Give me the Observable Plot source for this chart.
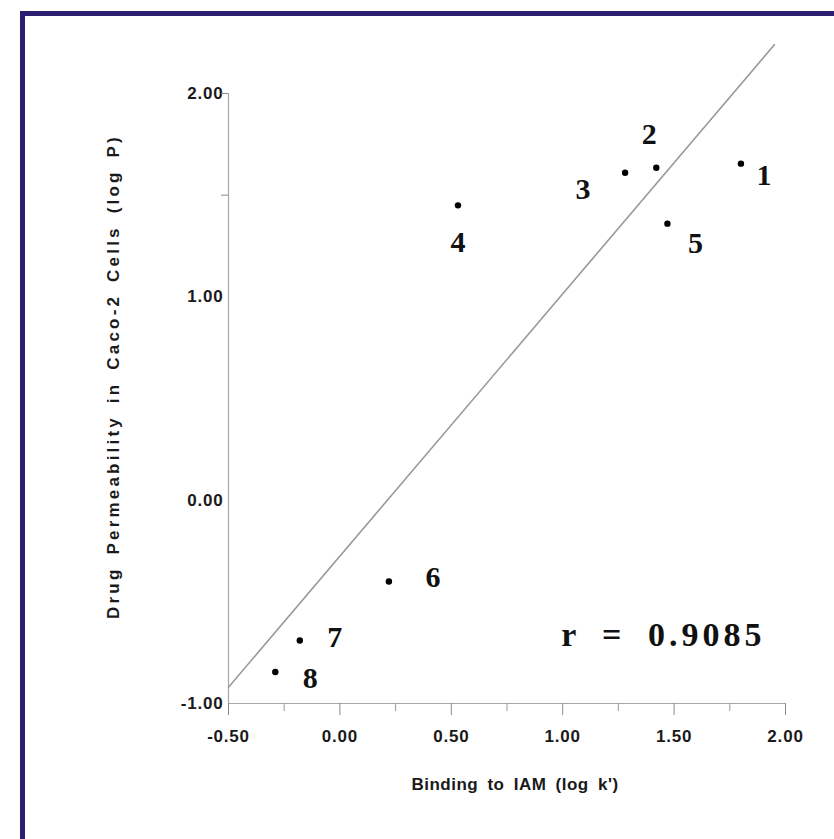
<!DOCTYPE html>
<html>
<head>
<meta charset="utf-8">
<script src="https://cdn.jsdelivr.net/npm/d3@7"></script>
<script src="https://cdn.jsdelivr.net/npm/@observablehq/plot@0.6"></script>
<style>
  html, body { margin: 0; padding: 0; background: #fff; }
  #wrap { position: relative; width: 834px; height: 839px; background: #fff; overflow: hidden; }
  #frame { position: absolute; left: 20px; top: 11px; width: 830px; height: 840px;
           border-left: 5px solid #2b1f72; border-top: 5px solid #2b1f72; box-sizing: border-box; }
  #chart { position: absolute; left: 0; top: 0; }
</style>
</head>
<body>
<div id="wrap"><div id="frame"></div><div id="chart"></div></div>
<script>
// Data
const compounds = ["1", "2", "3", "4", "5", "6", "7", "8"];
const bindingLogK = [1.80, 1.42, 1.28, 0.53, 1.47, 0.22, -0.18, -0.29];
const permeabilityLogP = [1.655, 1.635, 1.61, 1.45, 1.36, -0.40, -0.69, -0.845];
const fitX = [-0.5, 1.95];
const fitY = [-0.92, 2.24];
const xTicks = [-0.5, 0, 0.5, 1.0, 1.5, 2.0];
const xMinorTicks = [-0.25, 0.25, 0.75, 1.25, 1.75];
const yTicks = [-1, 0, 1, 2];
const yMinorTicks = [1.5, 2];
const xLabel = "Binding to IAM (log k')";
const yLabel = "Drug Permeability in Caco-2 Cells (log P)";
const rLabel = "r = 0.9085";

// label offsets (layout only)
const labelOffsets = [[23, 12], [-7, -33], [-42, 17], [0, 37], [28, 20], [44, -4], [35, -3], [35, 6]];

const points = compounds.map((c, i) => ({id: c, x: bindingLogK[i], y: permeabilityLogP[i]}));
const fit = fitX.map((x, i) => ({x, y: fitY[i]}));
const fmt = d => d.toFixed(2);

const sansBold = {fontFamily: "'Liberation Sans', Arial, sans-serif", fontWeight: "bold", fill: "#1a1a1a"};
const serifBold = {fontFamily: "'Liberation Serif', 'Times New Roman', serif", fontWeight: "bold", fill: "#111"};

const labelMarks = points.map((p, i) => Plot.text([p], {
  x: "x", y: "y", text: "id",
  dx: labelOffsets[i][0], dy: labelOffsets[i][1],
  ...serifBold, fontSize: 30
}));

const chart = Plot.plot({
  width: 834,
  height: 839,
  marginLeft: 228,
  marginRight: 49,
  marginTop: 93,
  marginBottom: 136,
  style: {background: "transparent", overflow: "visible"},
  x: {domain: [-0.5, 2.0]},
  y: {domain: [-1, 2]},
  marks: [
    Plot.ruleY([-1], {stroke: "#a8a8a8", strokeWidth: 1.2}),
    Plot.ruleX([-0.5], {stroke: "#a8a8a8", strokeWidth: 1.2}),
    Plot.axisX({ticks: xTicks, tickSize: 12, tickPadding: 14, tickFormat: fmt,
      stroke: "#8a8a8a", ...sansBold, fontSize: 17, label: null}),
    Plot.axisX({ticks: xMinorTicks, tickSize: 8, tickFormat: () => "", stroke: "#9a9a9a", label: null}),
    Plot.axisY({ticks: yTicks, tickSize: 0, tickPadding: 5, tickFormat: fmt,
      ...sansBold, fontSize: 17, label: null}),
    Plot.axisY({ticks: yMinorTicks, tickSize: 7, tickFormat: () => "", stroke: "#8a8a8a", label: null}),
    Plot.line(fit, {x: "x", y: "y", stroke: "#999", strokeWidth: 1.6}),
    Plot.dot(points, {x: "x", y: "y", r: 3.2, fill: "#000", stroke: "none"}),
    ...labelMarks,
    Plot.text([rLabel], {frameAnchor: "bottom-right", dx: -20, dy: -58, textAnchor: "end",
      ...serifBold, fontSize: 34}),
    Plot.text([xLabel], {frameAnchor: "bottom", dx: 8, dy: 86, textAnchor: "middle",
      ...sansBold, fontSize: 17}),
    Plot.text([yLabel], {frameAnchor: "left", rotate: -90, dx: -115, dy: -22, textAnchor: "middle",
      ...sansBold, fontSize: 17})
  ]
});

// typographic spacing tweaks (letter spacing of the original print)
d3.select(chart).selectAll("text").each(function() {
  const t = this.textContent;
  const s = d3.select(this);
  if (t === rLabel) s.style("letter-spacing", "4px").style("word-spacing", "10px");
  else if (t === xLabel) s.style("letter-spacing", "0.5px").style("word-spacing", "4px");
  else if (t === yLabel) s.style("letter-spacing", "3.2px").style("word-spacing", "4px");
  else if (/^-?\d\.\d\d$/.test(t)) s.style("letter-spacing", "0.8px");
});
document.getElementById("chart").appendChild(chart);
</script>
</body>
</html>
